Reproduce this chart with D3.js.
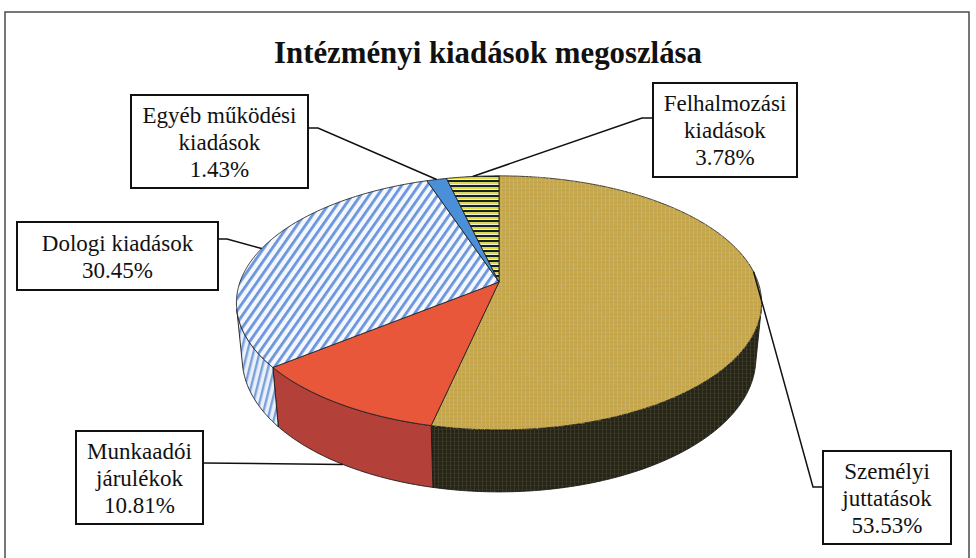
<!DOCTYPE html>
<html>
<head>
<meta charset="utf-8">
<script src="https://cdn.jsdelivr.net/npm/d3@7"></script>
<style>
  html, body { margin: 0; padding: 0; background: #fff; }
  svg { display: block; }
  text, tspan { font-family: "Liberation Serif", "Times New Roman", "DejaVu Serif", serif; }
</style>
</head>
<body>
<script>
// ---------------- DATA ----------------
const title = "Intézményi kiadások megoszlása";
const categories = ["Személyi juttatások", "Munkaadói járulékok", "Dologi kiadások", "Egyéb működési kiadások", "Felhalmozási kiadások"];
const values = [53.53, 10.81, 30.45, 1.43, 3.78];
const labelLines = [["Személyi", "juttatások"], ["Munkaadói", "járulékok"], ["Dologi kiadások"], ["Egyéb működési", "kiadások"], ["Felhalmozási", "kiadások"]];

// ---------------- LAYOUT / STYLE ----------------
const W = 976, H = 558;
const view = { cx: 499, cy: 282, a: 259, k: 0.187, elev: 28.5, depth: 0.248 };
const topFills = ["url(#szemelyi)", "#e9573b", "url(#dologi)", "#4a8fd8", "url(#felh)"];
const wallFills = ["url(#szemelyiSide)", "#b3413a", "url(#dologiSide)", "#3a70b0", "#333"];
const boxes = [
  { r: [823, 451, 128, 93], ay: 487, side: "left", elbow: 10, frac: 0.442, face: "top" },
  { r: [76, 431, 127, 93], ay: 463, side: "right", elbow: 0, frac: 0.5, face: "bottom" },
  { r: [17, 222, 201, 68], ay: 239, side: "right", elbow: 9, frac: 0.5, face: "top" },
  { r: [131, 95, 177, 93], ay: 128, side: "right", elbow: 10, frac: 0.5, face: "top" },
  { r: [653, 83, 144, 94], ay: 118, side: "left", elbow: 11, frac: 0.5, face: "top" }
];
const serif = "'Liberation Serif', 'Times New Roman', serif";

const svg = d3.select("body").append("svg").attr("width", W).attr("height", H);
const defs = svg.append("defs");

// grain filter (subtle)
const grain = defs.append("filter").attr("id", "grain").attr("x", 0).attr("y", 0).attr("width", "100%").attr("height", "100%");
grain.append("feTurbulence").attr("type", "fractalNoise").attr("baseFrequency", 0.7).attr("numOctaves", 2).attr("seed", 4).attr("result", "n");
grain.append("feColorMatrix").attr("in", "n").attr("type", "matrix")
  .attr("values", "0 0 0 0 0.5  0 0 0 0 0.42  0 0 0 0 0.15  2.2 0 0 0 -1.05").attr("result", "spk");
grain.append("feComposite").attr("in", "spk").attr("in2", "SourceGraphic").attr("operator", "in").attr("result", "spk2");
const gm = grain.append("feMerge");
gm.append("feMergeNode").attr("in", "SourceGraphic");
gm.append("feMergeNode").attr("in", "spk2");

// patterns
const pSz = defs.append("pattern").attr("id", "szemelyi").attr("patternUnits", "userSpaceOnUse").attr("width", 4).attr("height", 4);
pSz.append("rect").attr("width", 4).attr("height", 4).attr("fill", "#caa94b");
pSz.append("rect").attr("x", 0).attr("y", 2).attr("width", 4).attr("height", 1).attr("fill", "#c0a045");
pSz.append("rect").attr("x", 1).attr("y", 0).attr("width", 1).attr("height", 4).attr("fill", "#d0b252");

const pSzS = defs.append("pattern").attr("id", "szemelyiSide").attr("patternUnits", "userSpaceOnUse").attr("width", 4).attr("height", 4);
pSzS.append("rect").attr("width", 4).attr("height", 4).attr("fill", "#262419");
pSzS.append("rect").attr("x", 0).attr("y", 1).attr("width", 4).attr("height", 1).attr("fill", "#33311f");
pSzS.append("rect").attr("x", 2).attr("y", 0).attr("width", 1).attr("height", 4).attr("fill", "#3a3a26");

const pD = defs.append("pattern").attr("id", "dologi").attr("patternUnits", "userSpaceOnUse").attr("width", 7).attr("height", 7).attr("patternTransform", "rotate(35)");
pD.append("rect").attr("width", 7).attr("height", 7).attr("fill", "#f4f7fd");
pD.append("rect").attr("width", 2.8).attr("height", 7).attr("fill", "#6a95dc");

const pDS = defs.append("pattern").attr("id", "dologiSide").attr("patternUnits", "userSpaceOnUse").attr("width", 6).attr("height", 6).attr("patternTransform", "rotate(14)");
pDS.append("rect").attr("width", 6).attr("height", 6).attr("fill", "#eaf0f9");
pDS.append("rect").attr("width", 2.4).attr("height", 6).attr("fill", "#7aa0da");

const pF = defs.append("pattern").attr("id", "felh").attr("patternUnits", "userSpaceOnUse").attr("width", 5).attr("height", 5);
pF.append("rect").attr("width", 5).attr("height", 5).attr("fill", "#eef0e0");
pF.append("rect").attr("y", 0).attr("width", 5).attr("height", 2.2).attr("fill", "#16242a");
pF.append("rect").attr("y", 2.2).attr("width", 5).attr("height", 1.8).attr("fill", "#e2da3a");

// frame
svg.append("rect").attr("x", 5).attr("y", 12).attr("width", 964).attr("height", 560)
  .attr("fill", "none").attr("stroke", "#555").attr("stroke-width", 1.6);

// title
svg.append("text").attr("x", 488).attr("y", 63).attr("text-anchor", "middle")
  .style("font-family", serif).attr("font-weight", "bold")
  .attr("font-size", 31).attr("textLength", 428).attr("lengthAdjust", "spacingAndGlyphs")
  .attr("fill", "#111").text(title);

// ---------------- PIE ----------------
const ce = Math.cos(view.elev * Math.PI / 180), se = Math.sin(view.elev * Math.PI / 180);
function project(theta, yR) {
  const c = Math.cos(theta), s = Math.sin(theta);
  const den = 1 + view.k * (c * ce - yR * se);
  return [view.cx + view.a * s / den, view.cy - view.a * (c * se + yR * ce) / den];
}
function rim(a0, a1, yR) {
  const n = Math.max(2, Math.ceil((a1 - a0) / (Math.PI / 360)));
  return d3.range(n + 1).map(i => project(a0 + (a1 - a0) * i / n, yR));
}
const pie = d3.pie().sort(null).value(d => d).startAngle(0).endAngle(2 * Math.PI);
const arcs = pie(values);
const line = d3.line();
const tL = Math.acos(-view.k / ce), tR = 2 * Math.PI - tL;

const gPie = svg.append("g");
arcs.forEach((d, i) => {
  const s = Math.max(d.startAngle, tL), e = Math.min(d.endAngle, tR);
  if (s >= e) return;
  const pts = rim(s, e, 0).concat(rim(s, e, -view.depth).reverse());
  gPie.append("path").attr("d", line(pts) + "Z").attr("fill", wallFills[i])
    .attr("stroke", "#1a1a1a").attr("stroke-width", 0.9).attr("stroke-linejoin", "round");
});
arcs.forEach((d, i) => {
  const pts = [[view.cx, view.cy]].concat(rim(d.startAngle, d.endAngle, 0));
  gPie.append("path").attr("d", line(pts) + "Z").attr("fill", topFills[i])
    .attr("stroke", "#222").attr("stroke-width", 0.9).attr("stroke-linejoin", "round")
    .attr("filter", i === 0 ? "url(#grain)" : null);
});

// ---------------- LABELS ----------------
const fmt = d3.format(".2f");
const gLab = svg.append("g");
arcs.forEach((d, i) => {
  const b = boxes[i];
  const [x, y, w, h] = b.r;
  const th = d.startAngle + (d.endAngle - d.startAngle) * b.frac;
  const anchor = project(th, b.face === "top" ? 0 : -view.depth);
  const bx = b.side === "left" ? x : x + w;
  const ex = b.side === "left" ? bx - b.elbow : bx + b.elbow;
  gLab.append("path").attr("d", line([[bx, b.ay], [ex, b.ay], anchor])).attr("fill", "none")
    .attr("stroke", "#111").attr("stroke-width", 1.5);
  gLab.append("rect").attr("x", x).attr("y", y).attr("width", w).attr("height", h)
    .attr("fill", "#fff").attr("stroke", "#111").attr("stroke-width", 2);
  const lines = labelLines[i].concat([fmt(values[i]) + "%"]);
  const lh = 27;
  const y0 = y + h / 2 - (lines.length - 1) * lh / 2 + 8;
  const t = gLab.append("text").attr("text-anchor", "middle")
    .style("font-family", serif).attr("font-size", 23).attr("fill", "#111");
  lines.forEach((l, j) => t.append("tspan").attr("x", x + w / 2).attr("y", y0 + j * lh)
    .style("font-family", serif).text(l));
});
</script>
</body>
</html>
